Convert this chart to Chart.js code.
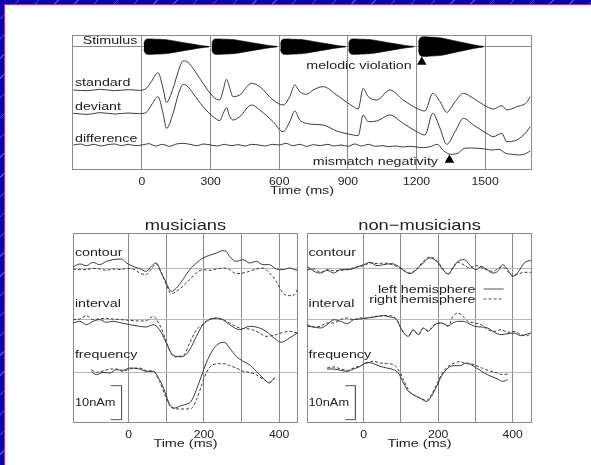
<!DOCTYPE html>
<html>
<head>
<meta charset="utf-8">
<script src="https://cdn.jsdelivr.net/npm/chart.js@4.4.1/dist/chart.umd.min.js"></script>
<style>
    html, body {
        margin: 0;
        height: 100%;
        overflow: hidden;
    }
    body {
        position: relative;
        background-color: #0808a8;
        background-image: repeating-linear-gradient(135deg, rgba(0, 0, 0, 0) 0 13px, rgba(150, 150, 255, 0.5) 13px 14px);
    }
    #sheet {
        position: fixed;
        left: 4px; top: 4px; right: 0; bottom: 0;
        background: #fff;
        border-left: 1px solid #e010e0;
        border-top: 1px solid #e010e0;
    }
    canvas { position: absolute; }
</style>
</head>
<body>
<div id="sheet"></div>
<canvas id="topChart" width="480" height="180" style="left:60px;top:25px"></canvas>
<canvas id="musChart" width="245" height="255" style="left:60px;top:210px"></canvas>
<canvas id="nonChart" width="245" height="255" style="left:295px;top:210px"></canvas>
<script>
// ---- top panel (time in ms, amplitude in arbitrary units) ----
const topTicks = [0, 300, 600, 900, 1200, 1500];
const topTimes = [-300, -240, -180, -120, -60, -10, 19, 41, 70, 92,
    107, 136, 158, 180, 201, 223, 267, 311, 340, 355,
    369, 384, 398, 427, 479, 515, 573, 617, 646, 668,
    690, 719, 748, 792, 851, 924, 945, 967, 989, 1026,
    1084, 1142, 1201, 1237, 1271, 1303, 1332, 1369, 1405, 1449,
    1507, 1536, 1573, 1595, 1638, 1682, 1697];
const standardWave = [0.0, -0.2, 0.2, -0.2, 0.1, -0.1, 0.5, 2.5, 5.2, 0.5,
    -3.7, 0.5, 5.5, 8.7, 8.3, 6.5, 2.0, -2.0, -3.0, 0.0,
    3.2, 0.5, -2.0, -1.5, 2.0, 1.0, -3.0, -4.5, -2.0, 1.5,
    -0.5, -1.3, 0.0, 1.0, -1.5, -5.0, -5.7, 0.5, -2.0, -3.0,
    0.0, -3.0, -5.5, -6.3, -1.0, -3.5, -6.7, -3.5, -1.0, -2.5,
    -5.0, -5.7, -4.7, -6.0, -5.0, -3.7, -2.0];
const deviantWave = [0.0, -0.3, 0.2, -0.2, 0.1, -0.1, 0.3, 2.5, 5.0, 0.0,
    -4.5, 0.0, 5.5, 8.7, 8.0, 6.0, 2.0, -1.0, -2.2, 0.0,
    1.7, -1.0, -2.0, -1.0, 2.5, 1.0, -2.5, -5.5, -2.5, 0.7,
    -2.0, -3.0, -3.3, -3.5, -5.3, -6.5, -6.7, -0.5, -2.5, -2.3,
    -0.5, -3.0, -5.5, -6.5, 0.0, -4.5, -9.3, -5.5, -1.5, -3.5,
    -6.0, -7.0, -6.0, -8.5, -8.0, -5.5, -4.0];
const diffTimes = [-300, -270, -240, -210, -180, -150, -120, -90, -60, -30,
    0, 30, 60, 90, 120, 150, 180, 210, 240, 270,
    300, 330, 360, 390, 420, 450, 480, 510, 540, 570,
    600, 630, 660, 690, 720, 750, 780, 810, 840, 870,
    900, 930, 960, 990, 1020, 1050, 1080, 1110, 1140, 1170,
    1200, 1230, 1260, 1290, 1320, 1350, 1380, 1410, 1440, 1470,
    1500, 1530, 1560, 1590, 1620, 1650, 1680, 1697];
const differenceWave = [0.0, 0.3, -0.2, 0.2, -0.3, 0.1, 0.3, -0.2, 0.2, -0.2,
    0.0, 0.4, -0.3, 0.2, -0.4, 0.3, 0.5, 0.2, -0.2, 0.3,
    0.0, -0.3, 0.2, -0.2, 0.1, -0.3, 0.2, 0.0, -0.3, 0.2,
    0.0, 0.5, -0.2, 0.2, -0.4, 0.1, -0.2, 0.2, -0.3, 0.0,
    -0.4, 0.3, -0.3, 0.2, -0.4, -0.2, -0.5, -0.3, -0.6, -0.4,
    -0.6, -0.8, -0.5, 0.2, -1.8, -2.8, -2.5, -1.0, -0.9, -1.0,
    -1.2, -1.5, -1.3, -2.5, -2.8, -3.0, -2.5, -1.8];
const standardBase = 24;
const deviantBase = 17;
const differenceBase = 7.5;

// stimulus tones (onset ms, envelope)
const stimLine = 37.0;
const toneOnsets = [8, 305, 605, 903, 1208];
const toneGain = [2.3, 2.3, 2.3, 2.3, 2.9];
const envTimes = [0, 5, 15, 60, 100, 150, 200, 240, 270, 285];
const envShape = [0.3, 0.8, 1.0, 0.97, 0.9, 0.65, 0.4, 0.2, 0.08, 0.03];
const violationMark = [1223, 32.4];
const mmnMark = [1344, 3.0];

// ---- bottom panels (ms, nAm) ----
const bottomGrid = [0, 100, 200, 300, 400];
const bottomTickLabels = [0, 200, 400];
const musBaselines = [46.5, 31.0, 15.3];
const nonBaselines = [46.2, 31.0, 15.3];

const musContourT = [-148, -130, -112, -95, -77, -59, -42, -19, -6, 16, 29, 47, 60, 73, 87, 100, 113, 127, 144, 162, 180, 197, 215, 233, 250, 259, 268, 286, 304, 321, 339, 357, 374, 392, 410, 427, 441, 448];
const musContourL = [0.3, 1.2, 0.7, 1.7, 1.0, 2.0, 2.5, 2.7, 1.5, 0.3, -0.2, -1.0, 0.5, 1.5, -1.5, -4.5, -7.0, -6.0, -3.5, -0.5, 1.5, 3.0, 3.8, 4.5, 5.2, 5.0, 3.5, 2.0, 2.5, 1.5, 2.0, 1.0, 1.0, -0.3, -0.5, 0.0, -0.5, -0.7];
const musContourR = [-0.3, -0.5, -0.5, -0.1, -0.3, -0.7, -0.3, -0.5, -0.1, -0.5, -1.5, -2.0, -0.3, 1.2, -1.5, -5.0, -7.7, -7.0, -5.5, -3.5, -1.5, -0.5, -0.7, -0.3, 0.0, -0.1, -0.5, -1.7, -1.5, -1.0, -0.3, 0.0, -1.5, -4.0, -7.5, -8.3, -8.0, -6.5];

const musIntervalT = [-148, -130, -112, -95, -77, -59, -42, -19, 3, 29, 47, 65, 82, 100, 113, 127, 144, 162, 180, 197, 215, 233, 250, 268, 295, 321, 348, 365, 392, 405, 427, 448];
const musIntervalL = [-1.0, -0.5, -1.5, -0.5, 0.0, -0.8, -0.5, -1.0, -1.5, -2.0, -2.2, -1.5, -3.0, -7.0, -10.0, -11.0, -11.0, -9.0, -5.0, -1.5, 0.0, 0.5, 0.0, -1.5, -3.0, -2.0, -2.5, -3.5, -6.0, -6.8, -5.5, -4.0];
const musIntervalR = [0.0, 0.2, 1.2, 0.0, 0.3, 0.4, 0.2, 0.0, -0.2, -0.4, -0.3, 1.0, -1.5, -6.5, -10.2, -11.2, -11.0, -7.0, -3.0, -1.5, 0.2, 0.4, 0.0, -1.0, -2.5, -2.8, -4.0, -5.0, -4.5, -4.0, -3.5, -4.0];

const musFreqT = [-99, -86, -68, -50, -33, -15, 3, 29, 47, 65, 82, 96, 109, 122, 135, 149, 166, 180, 193, 206, 224, 242, 255, 268, 286, 304, 321, 339, 357, 374, 383, 388];
const musFreqL = [0.2, -0.8, -0.1, -0.3, 0.7, 0.5, 1.2, 0.9, 0.2, 0.2, -2.3, -5.8, -9.8, -10.8, -10.3, -9.8, -8.8, -5.3, -1.3, 2.7, 6.7, 8.7, 8.9, 7.2, 4.7, 3.2, 2.2, 0.2, -1.8, -3.3, -2.3, -1.8];
const musFreqR = [0.7, -0.1, 0.3, 0.9, 0.9, 0.2, 0.9, 1.2, 0.4, 0.2, -2.8, -6.8, -10.1, -11.0, -11.1, -11.1, -11.0, -8.3, -4.3, -0.3, 2.2, 2.5, 2.5, 1.9, 1.2, 0.2, -0.1, -0.8, -2.1, -3.1, -2.3, -1.8];

const nonContourT = [-151, -133, -116, -98, -80, -62, -40, -18, 0, 18, 36, 53, 76, 93, 111, 124, 142, 160, 178, 196, 213, 227, 240, 253, 271, 284, 302, 316, 329, 347, 360, 373, 387, 400, 413, 431, 449];
const nonContourL = [0.8, -0.7, -1.2, -0.4, -1.2, -0.2, -0.2, 0.6, 1.3, 2.0, 1.0, 1.3, 1.6, 0.8, -0.7, -1.4, -0.2, 1.8, 3.3, 2.3, -0.2, -1.5, 0.3, 2.3, 2.8, 1.3, -0.2, 0.8, 0.0, -1.2, -0.7, 1.3, -0.2, -2.2, -1.2, 1.8, 2.6];
const nonContourR = [-0.2, 0.0, -1.0, -0.2, -0.5, -0.4, 0.0, 0.6, 1.0, 1.8, 1.6, 1.8, 1.3, 0.6, -0.7, -1.2, 0.0, 2.3, 3.6, 2.6, 0.0, -1.7, 0.6, 2.0, 1.1, 0.3, 1.0, 0.5, -0.2, -0.7, 0.0, 0.6, -0.7, -2.0, -1.6, -1.0, -1.0];

const nonIntervalT = [-151, -133, -116, -98, -80, -62, -44, -27, -9, 9, 31, 53, 71, 89, 102, 120, 133, 147, 160, 173, 191, 209, 227, 240, 253, 267, 280, 298, 316, 333, 351, 369, 387, 404, 422, 440, 449];
const nonIntervalL = [-2.0, -2.2, -2.5, -1.5, 0.0, -0.5, -1.2, 0.0, 0.2, 0.5, 0.8, 1.2, 0.8, 0.0, -3.0, -5.0, -3.0, -4.5, -2.5, -3.5, -1.5, -1.0, -1.8, -1.0, -0.5, -0.5, -1.0, -2.0, -2.2, -2.5, -3.8, -4.5, -4.2, -4.0, -4.8, -4.3, -4.0];
const nonIntervalR = [-1.5, -2.2, -2.0, -1.0, -1.0, 0.0, 0.5, 0.0, 0.5, 0.5, 1.0, 1.2, 1.2, 0.0, -3.0, -5.0, -3.2, -4.5, -2.5, -3.3, -1.5, -1.0, -2.0, 1.0, 2.0, 1.0, -0.5, -1.0, -1.5, -3.0, -3.5, -3.0, -3.8, -3.5, -4.5, -4.8, -4.0];

const nonFreqT = [-98, -80, -62, -44, -27, -9, 9, 27, 44, 62, 80, 93, 107, 120, 133, 151, 169, 182, 196, 209, 222, 240, 258, 276, 289, 307, 324, 342, 360, 373, 387];
const nonFreqL = [0.9, 0.9, 0.5, 0.2, 0.9, 1.7, 2.9, 2.5, 1.7, 1.2, 0.7, -0.3, -3.3, -5.8, -6.8, -7.8, -8.8, -7.3, -4.3, -1.3, 0.7, 1.9, 1.9, 2.7, 2.2, 0.9, -0.3, -1.3, -2.1, -2.8, -2.3];
const nonFreqR = [1.2, 1.5, 0.9, 0.5, 1.2, 1.9, 2.7, 3.2, 2.7, 2.5, 2.2, 0.7, -2.3, -5.3, -6.8, -7.8, -8.5, -6.8, -3.8, -0.8, 1.2, 2.5, 3.1, 2.5, 2.4, 1.7, 0.9, 0.2, -0.3, -0.8, -0.6];

// 10 nAm scale bar and legend samples
const barT = [-48, -19, -19, -48];
const barY = [11.2, 11.2, 1.0, 1.0];
const nonBarT = [-49, -22, -22, -49];
const legendT = [322, 376];
const legendY = [40.2, 37.2];

const SX = 1.22; // text in the picture is drawn a little wide
const INK = '#222';
const FRAME = '#8a8a8a';

// draw stretched text
function put(ctx, text, px, py, align, size) {
    ctx.save();
    ctx.translate(px, py);
    ctx.scale(SX, 1);
    ctx.font = size + 'px "Liberation Sans", Arial, sans-serif';
    ctx.textAlign = align;
    ctx.textBaseline = 'middle';
    ctx.fillStyle = INK;
    ctx.fillText(text, 0, 0);
    ctx.restore();
}

// frame, labels, ticks and titles
const textLayer = {
    id: 'textLayer',
    beforeDatasetsDraw(chart) {
        const { ctx, chartArea: a } = chart;
        ctx.save();
        ctx.strokeStyle = FRAME;
        ctx.lineWidth = 1;
        ctx.strokeRect(Math.round(a.left) + 0.5, Math.round(a.top) + 0.5,
            Math.round(a.right - a.left) - 1, Math.round(a.bottom - a.top) - 1);
        ctx.restore();
    },
    afterDraw(chart, args, opts) {
        const { ctx, chartArea: a, scales: { x, y } } = chart;
        opts.labels.forEach(l => {
            put(ctx, l.text, x.getPixelForValue(l.x), y.getPixelForValue(l.y), l.align || 'left', l.size || 11.7);
        });
        opts.tickValues.forEach(v => {
            put(ctx, String(v), x.getPixelForValue(v), a.bottom + opts.tickGap, 'center', 10);
        });
        put(ctx, 'Time (ms)', (a.left + a.right) / 2, a.bottom + opts.titleGap, 'center', 11.8);
        if (opts.heading) {
            put(ctx, opts.heading, (a.left + a.right) / 2, a.top - 7, 'center', 15);
        }
    }
};

function trace(times, values, base, dashed) {
    return {
        data: times.map((t, i) => ({ x: t, y: base + values[i] })),
        borderColor: '#3a3a3a',
        borderWidth: 1,
        borderDash: dashed ? [3, 2] : [],
        pointRadius: 0,
        cubicInterpolationMode: 'monotone',
        fill: false
    };
}

function path(xs, ys, dashed) {
    return {
        data: xs.map((t, i) => ({ x: t, y: ys[i] })),
        borderColor: '#555',
        borderWidth: 1,
        borderDash: dashed ? [3, 2] : [],
        pointRadius: 0,
        tension: 0,
        fill: false
    };
}

function marker(pos) {
    return {
        data: [{ x: pos[0], y: pos[1] }],
        showLine: false,
        pointStyle: 'triangle',
        pointRadius: 5.5,
        backgroundColor: '#000',
        borderColor: '#000',
        borderWidth: 0
    };
}

// tone envelopes as upper/lower filled pairs
function toneSets() {
    const sets = [];
    toneOnsets.forEach((on, k) => {
        const up = envTimes.map((t, i) => ({ x: on + t, y: stimLine + toneGain[k] * envShape[i] }));
        const lo = envTimes.map((t, i) => ({ x: on + t, y: stimLine - toneGain[k] * envShape[i] }));
        sets.push({ data: up, borderColor: '#000', borderWidth: 0.6, pointRadius: 0, tension: 0.3, fill: false });
        sets.push({ data: lo, borderColor: '#000', borderWidth: 0.6, pointRadius: 0, tension: 0.3, fill: '-1', backgroundColor: '#000' });
    });
    return sets;
}

function axes(xmin, xmax, ymax, gridX, gridY, gridYColor) {
    return {
        x: {
            type: 'linear', min: xmin, max: xmax,
            afterBuildTicks: s => { s.ticks = gridX.map(v => ({ value: v })); },
            afterFit: s => { s.height = 0; },
            ticks: { display: false },
            grid: { color: FRAME, lineWidth: 1, drawTicks: false },
            border: { display: false }
        },
        y: {
            type: 'linear', min: 0, max: ymax,
            afterBuildTicks: s => { s.ticks = gridY.map(v => ({ value: v })); },
            afterFit: s => { s.width = 0; },
            ticks: { display: false },
            grid: { color: gridYColor, lineWidth: 1, drawTicks: false },
            border: { display: false }
        }
    };
}

function makeChart(id, datasets, scales, padding, layer) {
    return new Chart(document.getElementById(id), {
        type: 'line',
        data: { datasets: datasets },
        options: {
            responsive: false,
            animation: false,
            devicePixelRatio: 1,
            layout: { padding: padding },
            scales: scales,
            plugins: { legend: { display: false }, tooltip: { enabled: false }, textLayer: layer }
        },
        plugins: [textLayer]
    });
}

// top chart
makeChart('topChart',
    toneSets().concat([
        trace(topTimes, standardWave, standardBase, false),
        trace(topTimes, deviantWave, deviantBase, false),
        trace(diffTimes, differenceWave, differenceBase, false),
        marker(violationMark),
        marker(mmnMark)
    ]),
    axes(-306, 1705, 40.5, topTicks, [stimLine], FRAME),
    { left: 12, right: 8, top: 10, bottom: 35 },
    {
        labels: [
            { text: 'Stimulus', x: -140, y: 38.9, align: 'center' },
            { text: 'standard', x: -293, y: 26.1 },
            { text: 'deviant', x: -293, y: 18.9 },
            { text: 'difference', x: -293, y: 9.45 },
            { text: 'melodic violation', x: 1179, y: 31.35, align: 'right' },
            { text: 'mismatch negativity', x: 1294, y: 2.4, align: 'right' }
        ],
        tickValues: topTicks, tickGap: 12, titleGap: 21
    });

// musicians
makeChart('musChart',
    [
        trace(musContourT, musContourL, musBaselines[0], false),
        trace(musContourT, musContourR, musBaselines[0], true),
        trace(musIntervalT, musIntervalL, musBaselines[1], false),
        trace(musIntervalT, musIntervalR, musBaselines[1], true),
        trace(musFreqT, musFreqL, musBaselines[2], false),
        trace(musFreqT, musFreqR, musBaselines[2], true),
        path(barT, barY, false)
    ],
    axes(-148, 450, 57, bottomGrid, musBaselines, '#b8b8b8'),
    { left: 13, right: 7, top: 23, bottom: 42 },
    {
        labels: [
            { text: 'contour', x: -143, y: 51.2 },
            { text: 'interval', x: -143, y: 35.9 },
            { text: 'frequency', x: -143, y: 20.5 },
            { text: '10nAm', x: -143, y: 6.1, size: 10.5 }
        ],
        tickValues: bottomTickLabels, tickGap: 12.7, titleGap: 21, heading: 'musicians'
    });

// non-musicians
makeChart('nonChart',
    [
        trace(nonContourT, nonContourL, nonBaselines[0], false),
        trace(nonContourT, nonContourR, nonBaselines[0], true),
        trace(nonIntervalT, nonIntervalL, nonBaselines[1], false),
        trace(nonIntervalT, nonIntervalR, nonBaselines[1], true),
        trace(nonFreqT, nonFreqL, nonBaselines[2], false),
        trace(nonFreqT, nonFreqR, nonBaselines[2], true),
        path(nonBarT, barY, false),
        path(legendT, [legendY[0], legendY[0]], false),
        path(legendT, [legendY[1], legendY[1]], true)
    ],
    axes(-152, 452, 57, bottomGrid, nonBaselines, '#b8b8b8'),
    { left: 12, right: 8, top: 23, bottom: 42 },
    {
        labels: [
            { text: 'contour', x: -148, y: 51.2 },
            { text: 'interval', x: -148, y: 35.9 },
            { text: 'frequency', x: -148, y: 20.5 },
            { text: '10nAm', x: -148, y: 6.1, size: 10.5 },
            { text: 'left hemisphere', x: 300, y: 40.1, align: 'right' },
            { text: 'right hemisphere', x: 300, y: 37.0, align: 'right' }
        ],
        tickValues: bottomTickLabels, tickGap: 12.7, titleGap: 21, heading: 'non\u2212musicians'
    });
</script>
</body>
</html>
